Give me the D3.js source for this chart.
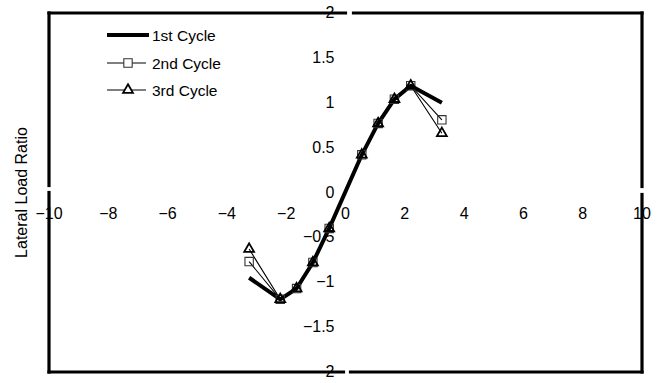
<!DOCTYPE html>
<html>
<head>
<meta charset="utf-8">
<script src="https://cdn.jsdelivr.net/npm/d3@7"></script>
<style>
  body { margin: 0; background: #fff; }
  text { font-family: "Liberation Sans", Arial, sans-serif; fill: #000; }
</style>
</head>
<body>
<svg id="chart" width="658" height="383"></svg>
<script>
const displacement = [-3.25, -2.2, -1.65, -1.1, -0.55, 0.55, 1.1, 1.65, 2.2, 3.25]
const cycle1 = [-0.95, -1.19, -1.07, -0.78, -0.40, 0.42, 0.77, 1.04, 1.19, 1.00]
const cycle2 = [-0.77, -1.19, -1.07, -0.78, -0.40, 0.42, 0.77, 1.04, 1.19, 0.81]
const cycle3 = [-0.63, -1.19, -1.07, -0.78, -0.40, 0.42, 0.77, 1.04, 1.19, 0.66]
const xTicks = [-10, -8, -6, -4, -2, 0, 2, 4, 6, 8, 10]
const yTicks = [2, 1.5, 1, 0.5, 0, -0.5, -1, -1.5, -2]
const legendLabels = ["1st Cycle", "2nd Cycle", "3rd Cycle"]
const yTitle = "Lateral Load Ratio"

const svg = d3.select("#chart")
const x = d3.scaleLinear().domain([-10, 10]).range([49, 642])
const y = d3.scaleLinear().domain([-2, 2]).range([372, 13])
const x0 = x(0), y0 = y(0)
const fmt = v => String(v).replace("-", "\u2212")

// frame, broken where the axes meet it
const frame = [
  [[x(-10), y(2)], [x0, y(2)]], [[x0 + 8, y(2)], [x(10), y(2)]],
  [[x(10), y(2)], [x(10), y0 - 6]], [[x(10), y0 + 2], [x(10), y(-2)]],
  [[x(10), y(-2)], [x0 + 5, y(-2)]], [[x0 - 2, y(-2)], [x(-10), y(-2)]],
  [[x(-10), y(-2)], [x(-10), y0]], [[x(-10), y0 - 7], [x(-10), y(2)]]
]
svg.selectAll("line.frame").data(frame).enter()
  .append("line")
  .attr("class", "frame")
  .attr("x1", d => d[0][0]).attr("y1", d => d[0][1])
  .attr("x2", d => d[1][0]).attr("y2", d => d[1][1])
  .attr("stroke", "#000")
  .attr("stroke-width", 3.2)
  .attr("stroke-linecap", "square")

// tick labels sit on the centre axes
svg.selectAll("text.xt").data(xTicks).enter()
  .append("text")
  .attr("class", "xt")
  .attr("x", d => x(d))
  .attr("y", y0 + 26)
  .attr("text-anchor", "middle")
  .style("font-size", "16px")
  .text(fmt)

svg.selectAll("text.yt").data(yTicks).enter()
  .append("text")
  .attr("class", "yt")
  .attr("x", x0 - 11)
  .attr("y", d => y(d) + 5)
  .attr("text-anchor", "end")
  .style("font-size", "16px")
  .text(fmt)

svg.append("text")
  .attr("transform", `translate(27,${y0}) rotate(-90)`)
  .attr("text-anchor", "middle")
  .style("font-size", "16px")
  .text(yTitle)

const line = d3.line().x(d => x(d[0])).y(d => y(d[1]))
const pts = vals => displacement.map((d, i) => [d, vals[i]])

svg.append("path").datum(pts(cycle2)).attr("d", line)
  .attr("fill", "none").attr("stroke", "#000").attr("stroke-width", 1.1)
svg.append("path").datum(pts(cycle3)).attr("d", line)
  .attr("fill", "none").attr("stroke", "#000").attr("stroke-width", 1.1)
svg.append("path").datum(pts(cycle1)).attr("d", line)
  .attr("fill", "none").attr("stroke", "#000").attr("stroke-width", 4)
  .attr("stroke-linejoin", "round")

const square = d3.symbol().type(d3.symbolSquare).size(70)
const triangle = d3.symbol().type(d3.symbolTriangle).size(42)

svg.selectAll("path.sq").data(pts(cycle2)).enter()
  .append("path")
  .attr("class", "sq")
  .attr("d", square)
  .attr("transform", d => `translate(${x(d[0])},${y(d[1])})`)
  .attr("fill", "none").attr("stroke", "#333").attr("stroke-width", 1.1)

svg.selectAll("path.tri").data(pts(cycle3)).enter()
  .append("path")
  .attr("class", "tri")
  .attr("d", triangle)
  .attr("transform", d => `translate(${x(d[0])},${y(d[1])})`)
  .attr("fill", "none").attr("stroke", "#000").attr("stroke-width", 1.8)

// legend
const legY = [35, 63, 90]
const leg = svg.append("g")
leg.append("line").attr("x1", 107).attr("x2", 149).attr("y1", legY[0]).attr("y2", legY[0])
  .attr("stroke", "#000").attr("stroke-width", 4)
leg.append("line").attr("x1", 107).attr("x2", 146).attr("y1", legY[1]).attr("y2", legY[1])
  .attr("stroke", "#000").attr("stroke-width", 1.1)
leg.append("line").attr("x1", 107).attr("x2", 146).attr("y1", legY[2]).attr("y2", legY[2])
  .attr("stroke", "#000").attr("stroke-width", 1.1)
leg.append("path").attr("d", square).attr("transform", `translate(128,${legY[1]})`)
  .attr("fill", "#fff").attr("stroke", "#333").attr("stroke-width", 1.1)
leg.append("path").attr("d", triangle).attr("transform", `translate(128,${legY[2]})`)
  .attr("fill", "#fff").attr("stroke", "#000").attr("stroke-width", 1.8)
leg.selectAll("text").data(legendLabels).enter()
  .append("text")
  .attr("x", 152)
  .attr("y", (d, i) => legY[i] + 6)
  .style("font-size", "15.5px")
  .text(d => d)
</script>
</body>
</html>
